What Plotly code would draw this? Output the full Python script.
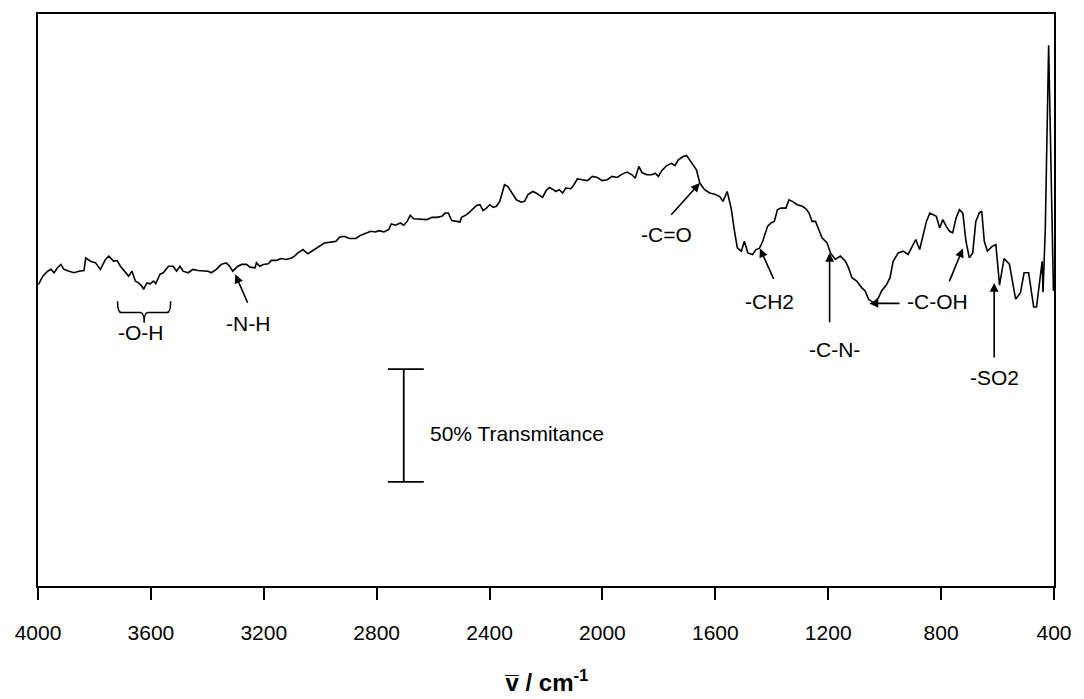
import plotly.graph_objects as go

# Wavenumber (cm^-1) and relative transmittance (%)
wavenumber = [3998, 3983, 3966, 3954, 3943, 3931, 3919, 3908, 3890, 3872, 3855, 3837, 3831, 3814, 3796, 3779,
              3761, 3749, 3732, 3720, 3708, 3691, 3679, 3667, 3655, 3644, 3632, 3626, 3614, 3603, 3591, 3583,
              3568, 3556, 3538, 3521, 3509, 3497, 3486, 3468, 3451, 3433, 3415, 3398, 3386, 3368, 3351, 3333,
              3321, 3310, 3292, 3278, 3261, 3249, 3231, 3226, 3214, 3202, 3184, 3173, 3155, 3138, 3120, 3102,
              3091, 3079, 3061, 3044, 3026, 3015, 3003, 2985, 2962, 2944, 2932, 2915, 2897, 2874, 2856, 2839,
              2821, 2804, 2792, 2774, 2757, 2748, 2733, 2716, 2704, 2692, 2681, 2669, 2645, 2622, 2604, 2587,
              2569, 2558, 2546, 2534, 2516, 2505, 2499, 2481, 2470, 2458, 2446, 2434, 2423, 2411, 2399, 2387,
              2376, 2364, 2358, 2347, 2335, 2323, 2305, 2288, 2276, 2264, 2247, 2235, 2218, 2212, 2200, 2188,
              2177, 2165, 2153, 2141, 2130, 2112, 2101, 2089, 2071, 2053, 2036, 2018, 2001, 1983, 1966, 1948,
              1930, 1913, 1895, 1884, 1871, 1860, 1843, 1825, 1813, 1802, 1790, 1772, 1755, 1743, 1731, 1714,
              1702, 1690, 1679, 1667, 1655, 1638, 1620, 1602, 1585, 1573, 1558, 1544, 1532, 1522, 1508, 1497,
              1485, 1468, 1456, 1444, 1432, 1415, 1403, 1391, 1380, 1368, 1350, 1339, 1327, 1310, 1292, 1279,
              1268, 1257, 1245, 1233, 1222, 1204, 1192, 1175, 1157, 1139, 1128, 1116, 1099, 1081, 1069, 1057,
              1040, 1022, 1011, 993, 981, 970, 952, 934, 917, 905, 890, 876, 864, 852, 840, 829,
              817, 805, 794, 782, 770, 759, 747, 735, 723, 712, 700, 688, 677, 665, 656, 647,
              636, 618, 606, 593, 577, 558, 536, 519, 506, 490, 472, 462, 449, 442, 439, 431,
              419, 402]

transmittance = [133.9, 137.6, 139.8, 140.6, 139.1, 141.3, 142.8, 140.6, 139.8, 139.1, 139.8, 140.1, 145.7, 144.2, 143.5, 140.6,
                 145.0, 146.5, 144.2, 144.6, 142.0, 139.1, 137.6, 139.8, 135.4, 134.6, 133.2, 131.7, 134.6, 134.2, 135.4, 134.2,
                 138.4, 139.1, 142.0, 142.0, 139.8, 142.0, 139.8, 139.1, 140.6, 140.1, 139.8, 139.8, 139.1, 140.6, 142.8, 143.5,
                 142.0, 139.8, 142.0, 142.8, 142.8, 141.6, 141.3, 143.5, 142.0, 142.8, 143.1, 144.6, 144.6, 145.4, 145.0, 145.7,
                 146.5, 147.9, 149.4, 147.5, 149.0, 149.9, 150.9, 152.3, 152.7, 153.1, 154.9, 155.3, 154.3, 154.3, 155.8, 156.8,
                 157.5, 157.2, 157.8, 157.2, 158.3, 160.8, 160.2, 161.2, 160.2, 161.9, 164.6, 163.1, 163.0, 162.7, 163.7, 163.7,
                 164.2, 165.6, 165.6, 162.3, 161.9, 161.6, 163.7, 164.9, 166.1, 167.8, 169.0, 169.3, 166.7, 167.8, 169.3, 168.1,
                 168.6, 170.8, 173.8, 178.2, 177.4, 175.2, 171.5, 170.4, 170.8, 173.8, 175.2, 174.5, 173.0, 172.6, 175.5, 177.0,
                 176.2, 175.2, 176.0, 174.5, 176.7, 176.4, 178.2, 180.8, 180.4, 180.0, 181.9, 181.4, 180.0, 180.4, 181.9, 181.4,
                 182.9, 183.8, 182.6, 181.1, 186.3, 183.6, 182.6, 182.6, 183.3, 181.9, 184.4, 186.7, 187.7, 186.7, 189.2, 190.7,
                 191.2, 189.2, 187.3, 184.8, 178.9, 176.0, 174.5, 174.0, 173.0, 170.8, 175.2, 167.8, 157.5, 150.1, 148.7, 153.1,
                 147.9, 147.2, 149.4, 149.9, 153.1, 159.7, 161.2, 161.9, 167.1, 167.8, 167.8, 171.5, 170.8, 169.3, 168.6, 167.5,
                 165.6, 161.9, 161.9, 158.3, 154.6, 152.3, 147.9, 145.0, 146.5, 144.2, 141.3, 136.9, 135.4, 132.4, 131.0, 127.3,
                 125.8, 128.0, 131.0, 133.9, 136.9, 144.2, 147.9, 148.7, 147.2, 150.1, 153.8, 149.4, 156.1, 161.9, 165.6, 164.9,
                 164.2, 159.0, 162.7, 159.7, 157.5, 156.8, 163.4, 167.1, 165.6, 153.1, 145.7, 147.9, 161.9, 165.6, 166.4, 153.1,
                 148.7, 150.9, 151.6, 133.6, 145.4, 142.9, 127.4, 130.1, 139.1, 139.1, 123.9, 123.9, 138.9, 144.2, 130.5, 157.5,
                 240.1, 131.0]

tick_values = [4000, 3600, 3200, 2800, 2400, 2000, 1600, 1200, 800, 400]

# Band labels: (text, arrow head x, head y, tail x, tail y, label x, label y)
band_labels = ["-N-H", "-C=O", "-CH2", "-C-N-", "-C-OH", "", "-SO2"]
head_x = [3301, 1655, 1442, 1195, 1054, 723, 612]
head_y = [138.4, 178.9, 149.9, 147.9, 125.5, 149.9, 134.6]
tail_x = [3255, 1761, 1391, 1195, 942, 773, 612]
tail_y = [125.1, 164.2, 135.7, 116.5, 125.5, 134.6, 100.8]
label_x = [3255, 1772, 1409, 1177, 814, None, 612]
label_y = [116.5, 156.1, 126.2, 105.2, 126.2, None, 92.6]

# O-H brace region
oh_left, oh_right, oh_mid = 3718, 3530, 3624
oh_top, oh_base, oh_tip = 126.5, 121.4, 116.9
oh_label = (3634, 112.4)

# 50 % transmittance scale bar
bar_x, bar_low, bar_high = 2704, 46.2, 96.3
cap_left, cap_right = 2760, 2633
bar_text_x, bar_text_y = 2619, 67.6

FONT = "Liberation Sans, Arial, sans-serif"
LABEL_SIZE = 21

fig = go.Figure()
fig.add_trace(go.Scatter(x=wavenumber, y=transmittance, mode="lines",
                         line=dict(color="black", width=1.6), showlegend=False, hoverinfo="skip"))

annotations = []
for t, hx, hy, tx, ty, lx, ly in zip(band_labels, head_x, head_y, tail_x, tail_y, label_x, label_y):
    annotations.append(dict(x=hx, y=hy, ax=tx, ay=ty, xref="x", yref="y", axref="x", ayref="y",
                            text="", showarrow=True, arrowhead=2, arrowsize=1.1, arrowwidth=1.6,
                            arrowcolor="black", standoff=0, startstandoff=0))
    if t:
        annotations.append(dict(x=lx, y=ly, xref="x", yref="y", text=t, showarrow=False,
                                font=dict(family=FONT, size=LABEL_SIZE, color="black"),
                                xanchor="center", yanchor="middle"))

annotations.append(dict(x=oh_label[0], y=oh_label[1], xref="x", yref="y", text="-O-H", showarrow=False,
                        font=dict(family=FONT, size=LABEL_SIZE, color="black"), xanchor="center", yanchor="middle"))
annotations.append(dict(x=bar_text_x, y=bar_text_y, xref="x", yref="y", text="50% Transmitance",
                        showarrow=False, font=dict(family=FONT, size=LABEL_SIZE, color="black"),
                        xanchor="left", yanchor="middle"))
annotations.append(dict(x=0.5, y=-0.166, xref="paper", yref="paper",
                        text="<b>v\u0305 / cm<sup>-1</sup></b>", showarrow=False,
                        font=dict(family=FONT, size=24, color="black"), xanchor="center", yanchor="middle"))

dx = (oh_left - oh_right) * 0.07
brace_path = (f"M {oh_left},{oh_top} Q {oh_left},{oh_base} {oh_left - dx},{oh_base} "
              f"L {oh_mid + dx},{oh_base} Q {oh_mid},{oh_base} {oh_mid},{oh_tip} "
              f"Q {oh_mid},{oh_base} {oh_mid - dx},{oh_base} "
              f"L {oh_right + dx},{oh_base} Q {oh_right},{oh_base} {oh_right},{oh_top}")

shapes = [
    dict(type="path", path=brace_path, xref="x", yref="y", line=dict(color="black", width=1.5)),
    dict(type="line", x0=bar_x, x1=bar_x, y0=bar_low, y1=bar_high, xref="x", yref="y",
         line=dict(color="black", width=1.8)),
    dict(type="line", x0=cap_left, x1=cap_right, y0=bar_low, y1=bar_low, xref="x", yref="y",
         line=dict(color="black", width=1.8)),
    dict(type="line", x0=cap_left, x1=cap_right, y0=bar_high, y1=bar_high, xref="x", yref="y",
         line=dict(color="black", width=1.8)),
]

fig.update_layout(
    width=1084, height=699,
    margin=dict(l=38, r=22, t=12, b=113),
    paper_bgcolor="white", plot_bgcolor="white",
    font=dict(family=FONT, color="black"),
    annotations=annotations, shapes=shapes,
    showlegend=False,
)
fig.update_xaxes(range=[4000, 400], tickvals=tick_values, ticktext=[str(v) for v in tick_values],
                 ticks="outside", ticklen=12, tickwidth=1.5, tickcolor="black",
                 showline=True, linecolor="black", linewidth=2, mirror=True,
                 showgrid=False, zeroline=False, tickfont=dict(family=FONT, size=21, color="black"),
                 ticklabelstandoff=15)
fig.update_yaxes(range=[0, 254], showticklabels=False, ticks="",
                 showline=True, linecolor="black", linewidth=2, mirror=True,
                 showgrid=False, zeroline=False)

fig.write_html("out.html")
